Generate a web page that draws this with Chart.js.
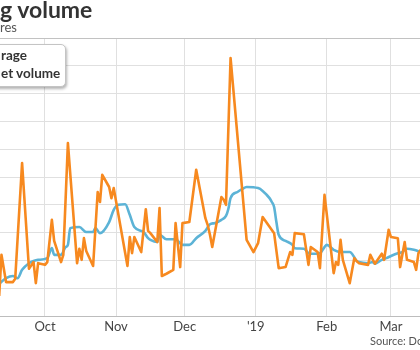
<!DOCTYPE html>
<html>
<head>
<meta charset="utf-8">
<script src="https://cdn.jsdelivr.net/npm/chart.js@4/dist/chart.umd.min.js"></script>
<style>
  body { margin: 0; width: 420px; height: 350px; overflow: hidden; background: #fff; position: relative; font-family: Lato, "Open Sans", sans-serif; }
  #wrap { position: absolute; left: 0; top: 0; width: 420px; height: 350px; }
  #title { position: absolute; left: 0; top: -2px; font-size: 23px; line-height: 23px; font-weight: bold; color: #333; }
  #subtitle { position: absolute; left: 0; top: 21px; font-size: 13px; line-height: 13px; color: #555; }
  #legend { position: absolute; left: -12px; top: 44px; width: 76px; height: 41px; background: #fff;
            border: 1px solid #c4c4c4; border-radius: 5px; box-shadow: 1px 2px 3px rgba(0,0,0,0.3); }
  #legend div { position: absolute; left: 12px; font-size: 13.5px; line-height: 14px; font-weight: bold; color: #333; white-space: nowrap; }
  #source { position: absolute; left: 370px; top: 335px; font-size: 11px; line-height: 11px; color: #555; white-space: nowrap; }
</style>
</head>
<body>
<div id="wrap"><canvas id="volumeChart"></canvas></div>
<div id="title">g volume</div>
<div id="subtitle">res</div>
<div id="legend"><div style="top:3px">rage</div><div style="top:21px">et volume</div></div>
<div id="source">Source: Do</div>
<script>
// Daily volume (turning points of the orange line), billions of shares
const volumeDates = [
  '2018-09-11','2018-09-12','2018-09-14','2018-09-17','2018-09-18','2018-09-21','2018-09-24','2018-09-26',
  '2018-09-27','2018-09-28','2018-10-01','2018-10-02','2018-10-04','2018-10-05','2018-10-08','2018-10-09',
  '2018-10-11','2018-10-15','2018-10-16','2018-10-17','2018-10-18','2018-10-19','2018-10-22','2018-10-24',
  '2018-10-25','2018-10-26','2018-10-29','2018-10-30','2018-10-31','2018-11-06','2018-11-07','2018-11-08',
  '2018-11-09','2018-11-12','2018-11-14','2018-11-15','2018-11-16','2018-11-19','2018-11-20','2018-11-21',
  '2018-11-23','2018-11-26','2018-11-27','2018-11-29','2018-11-30','2018-12-03','2018-12-06','2018-12-10',
  '2018-12-11','2018-12-12','2018-12-13','2018-12-17','2018-12-18','2018-12-19','2018-12-21','2018-12-28',
  '2018-12-31','2019-01-02','2019-01-04','2019-01-09','2019-01-11','2019-01-14','2019-01-16','2019-01-17',
  '2019-01-18','2019-01-22','2019-01-24','2019-01-25','2019-01-28','2019-01-29','2019-01-31','2019-02-04',
  '2019-02-05','2019-02-06','2019-02-07','2019-02-08','2019-02-11','2019-02-13','2019-02-14','2019-02-15',
  '2019-02-19','2019-02-20','2019-02-22','2019-02-25','2019-02-26','2019-02-28','2019-03-01','2019-03-04',
  '2019-03-05','2019-03-07','2019-03-08','2019-03-11','2019-03-12','2019-03-13','2019-03-14'
];
const volume = [
  2.36, 3.10, 2.61, 2.61, 2.67, 4.75, 2.85, 2.97,
  2.59, 2.95, 2.92, 2.97, 3.73, 3.35, 2.97, 3.10,
  5.11, 2.95, 3.21, 3.01, 3.40, 3.17, 2.90, 4.23,
  4.05, 4.54, 4.32, 4.12, 4.30, 2.90, 3.42, 3.13,
  3.42, 3.15, 3.92, 3.53, 3.49, 3.33, 3.94, 2.72,
  2.76, 2.83, 3.67, 2.88, 3.67, 3.69, 4.63, 3.76,
  3.64, 3.46, 3.24, 4.14, 4.09, 4.00, 6.64, 3.37,
  3.15, 3.31, 3.78, 3.49, 2.86, 2.88, 3.15, 3.10,
  3.49, 3.47, 2.92, 3.24, 3.15, 2.86, 4.18, 2.77,
  2.97, 2.92, 3.37, 3.01, 2.59, 3.04, 2.99, 2.95,
  2.92, 3.10, 2.94, 3.12, 3.01, 3.55, 3.42, 3.40,
  2.88, 3.33, 3.01, 2.97, 2.83, 3.13, 3.19
];

// Moving average (blue line)
const averageDates = [
  '2018-09-11','2018-09-14','2018-09-17','2018-09-19','2018-09-21','2018-09-24','2018-09-26','2018-09-28',
  '2018-10-02','2018-10-04','2018-10-05','2018-10-08','2018-10-10','2018-10-11','2018-10-12','2018-10-16',
  '2018-10-19','2018-10-22','2018-10-23','2018-10-25','2018-10-29','2018-10-31','2018-11-02','2018-11-05',
  '2018-11-07','2018-11-09','2018-11-13','2018-11-15','2018-11-16','2018-11-19','2018-11-20','2018-11-23',
  '2018-11-27','2018-11-30','2018-12-03','2018-12-06','2018-12-10','2018-12-12','2018-12-14','2018-12-17',
  '2018-12-19','2018-12-20','2018-12-21','2018-12-24','2018-12-26','2018-12-28','2019-01-02','2019-01-04',
  '2019-01-07','2019-01-08','2019-01-09','2019-01-10','2019-01-11','2019-01-14','2019-01-17','2019-01-18',
  '2019-01-22','2019-01-24','2019-01-25','2019-01-29','2019-01-31','2019-02-01','2019-02-04','2019-02-07',
  '2019-02-11','2019-02-12','2019-02-14','2019-02-15','2019-02-19','2019-02-21','2019-02-22','2019-02-25',
  '2019-02-27','2019-03-01','2019-03-04','2019-03-06','2019-03-07','2019-03-08','2019-03-11','2019-03-14'
];
const average = [
  2.58, 2.68, 2.72, 2.68, 2.83, 2.95, 2.99, 3.01,
  3.04, 3.22, 3.10, 3.10, 3.24, 3.28, 3.58, 3.60,
  3.51, 3.51, 3.58, 3.49, 3.69, 3.91, 4.00, 4.01,
  3.82, 3.60, 3.51, 3.40, 3.37, 3.33, 3.46, 3.38,
  3.38, 3.28, 3.28, 3.40, 3.53, 3.65, 3.67, 3.73,
  3.80, 3.92, 4.12, 4.23, 4.28, 4.32, 4.30, 4.25,
  4.12, 4.05, 3.96, 3.69, 3.46, 3.35, 3.28, 3.22,
  3.21, 3.13, 3.12, 3.13, 3.24, 3.28, 3.19, 3.15,
  3.15, 3.12, 2.99, 2.97, 2.95, 2.97, 2.94, 3.01,
  3.04, 3.08, 3.13, 3.15, 3.19, 3.21, 3.19, 3.15
];

// x axis: calendar days counted from Oct 1, 2018
const monthStarts = [0, 31, 61, 92, 123, 151];
const monthLabels = ['Oct', 'Nov', 'Dec', "'19", 'Feb', 'Mar'];
const xMin = -19.64, xMax = 163.68;
const yMin = 2, yMax = 7, yStep = 0.5;

const ORIGIN = Date.UTC(2018, 9, 1);
function dayOffset(iso) {
  const p = iso.split('-').map(Number);
  return (Date.UTC(p[0], p[1] - 1, p[2]) - ORIGIN) / 86400000;
}
function toPoints(dates, values) {
  return dates.map((d, i) => ({ x: dayOffset(d), y: values[i] }));
}

new Chart(document.getElementById('volumeChart'), {
  type: 'line',
  data: {
    datasets: [
      {
        label: 'volume',
        data: toPoints(volumeDates, volume),
        borderColor: '#f7891f',
        borderWidth: 2.6,
        pointRadius: 0,
        tension: 0,
        borderJoinStyle: 'round'
      },
      {
        label: 'average',
        data: toPoints(averageDates, average),
        borderColor: '#5cb3d6',
        borderWidth: 2.6,
        pointRadius: 0,
        cubicInterpolationMode: 'monotone',
        borderJoinStyle: 'round'
      }
    ]
  },
  options: {
    responsive: true,
    maintainAspectRatio: false,
    animation: false,
    layout: { padding: { top: 38, left: 0, right: 0, bottom: 0 } },
    plugins: { legend: { display: false }, tooltip: { enabled: false } },
    scales: {
      x: {
        type: 'linear',
        min: xMin,
        max: xMax,
        afterBuildTicks: scale => { scale.ticks = monthStarts.map(v => ({ value: v })); },
        afterFit: scale => { scale.height = 34; },
        grid: { color: '#e0e0e0', drawTicks: false },
        border: { color: '#bdbdbd' },
        ticks: {
          autoSkip: false,
          maxRotation: 0,
          padding: 3,
          color: '#444',
          font: { family: 'Lato', size: 13 },
          callback: value => monthLabels[monthStarts.indexOf(value)]
        }
      },
      y: {
        min: yMin,
        max: yMax,
        afterFit: scale => { scale.width = 0; },
        grid: {
          drawTicks: false,
          color: ctx => (ctx.tick && ctx.tick.value === yMax ? '#c2c2c2' : '#e0e0e0')
        },
        border: { display: false },
        ticks: { display: false, stepSize: yStep }
      }
    }
  }
});
</script>
</body>
</html>
